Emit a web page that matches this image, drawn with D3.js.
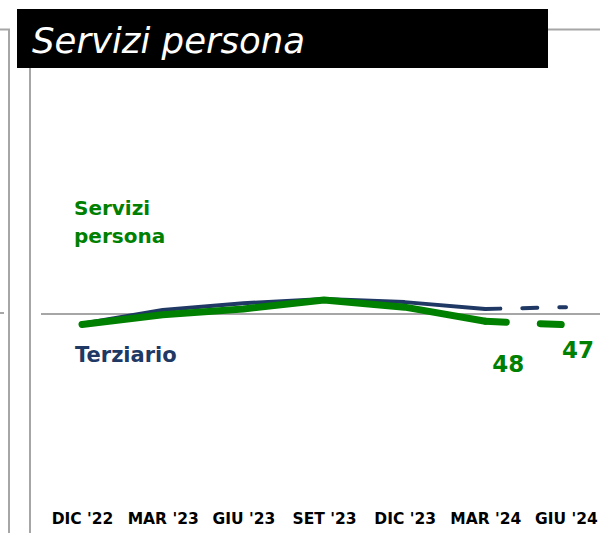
<!DOCTYPE html>
<html>
<head>
<meta charset="utf-8">
<script src="https://cdn.jsdelivr.net/npm/d3@7"></script>
<style>
  html, body { margin: 0; padding: 0; background: #fff; }
  svg { display: block; }
</style>
</head>
<body>
<svg id="chart" width="600" height="533"></svg>
<script>
// Quarterly survey periods
const categories = ["DIC '22", "MAR '23", "GIU '23", "SET '23", "DIC '23", "MAR '24", "GIU '24"];
// Index values (50 = neutral threshold)
const terziario = [47.3, 51.1, 53.0, 54.2, 53.3, 51.4, 51.9];
const serviziPersona = [47.1, 49.8, 51.4, 53.9, 51.9, 48, 47];
const threshold = 50;
// Index of the last surveyed period; the step after it is a forecast
const lastActual = 5;

const GREEN = "#008000";
const NAVY = "#203864";
const GRID = "#a6a6a6";
const FONT = "'DejaVu Sans', sans-serif";

const svg = d3.select("#chart");

const x = d3.scalePoint().domain(categories).range([82, 566]);
const y = d3.scaleLinear().domain([0, 100]).range([494, 134]);

// Panel frame lines
const frame = svg.append("g").attr("stroke", GRID).attr("stroke-width", 2).attr("fill", "none");
frame.append("path").attr("d", "M0,29.5H9V533");
frame.append("line").attr("x1", 30).attr("x2", 30).attr("y1", 68).attr("y2", 533);
frame.append("line").attr("x1", 547).attr("x2", 600).attr("y1", 29.5).attr("y2", 29.5);
frame.append("line").attr("x1", 0).attr("x2", 4).attr("y1", 313).attr("y2", 313);

// Title banner
svg.append("rect").attr("x", 17).attr("y", 9).attr("width", 531).attr("height", 59).attr("fill", "#000");
svg.append("text")
  .attr("x", 32).attr("y", 53)
  .attr("fill", "#fff")
  .attr("font-family", FONT)
  .attr("font-style", "italic")
  .attr("font-size", 35.5)
  .text("Servizi persona");

// Threshold line at 50
svg.append("line")
  .attr("x1", 41).attr("x2", 600)
  .attr("y1", y(threshold)).attr("y2", y(threshold))
  .attr("stroke", GRID).attr("stroke-width", 2);

function drawSeries(values, color, width, dash) {
  const idx = values.map((v, i) => i);
  const solid = idx.slice(0, lastActual + 1);
  const fut = idx.slice(lastActual);
  const l = d3.line().x(i => x(categories[i])).y(i => y(values[i]));
  svg.append("path").attr("d", l(solid))
    .attr("fill", "none").attr("stroke", color).attr("stroke-width", width)
    .attr("stroke-linecap", "round").attr("stroke-linejoin", "round");
  svg.append("path").attr("d", l(fut))
    .attr("fill", "none").attr("stroke", color).attr("stroke-width", width)
    .attr("stroke-linecap", "round").attr("stroke-dasharray", dash);
}

drawSeries(terziario, NAVY, 4, "15,22");
drawSeries(serviziPersona, GREEN, 7, "21,34");

// Series labels
const lab = svg.append("g").attr("font-family", FONT).attr("font-weight", "bold");
lab.append("text").attr("x", 74).attr("y", 215).attr("fill", GREEN).attr("font-size", 20).text("Servizi");
lab.append("text").attr("x", 74).attr("y", 243).attr("fill", GREEN).attr("font-size", 20).text("persona");
lab.append("text").attr("x", 75).attr("y", 362).attr("fill", NAVY).attr("font-size", 21).text("Terziario");

// Value labels for the last two periods
lab.append("text")
  .attr("x", x(categories[lastActual]) + 23).attr("y", 372)
  .attr("text-anchor", "middle").attr("fill", GREEN).attr("font-size", 23)
  .text(serviziPersona[lastActual]);
lab.append("text")
  .attr("x", x(categories[lastActual + 1]) + 12).attr("y", 358)
  .attr("text-anchor", "middle").attr("fill", GREEN).attr("font-size", 23)
  .text(serviziPersona[lastActual + 1]);

// Category axis
const axis = svg.append("g").attr("transform", "translate(0,524)")
  .call(d3.axisBottom(x).tickSize(0).tickPadding(0));
axis.select(".domain").remove();
axis.selectAll("text")
  .attr("y", 0).attr("dy", 0)
  .attr("fill", "#000")
  .attr("font-family", FONT)
  .attr("font-weight", "bold")
  .attr("font-size", 15.5);
</script>
</body>
</html>
